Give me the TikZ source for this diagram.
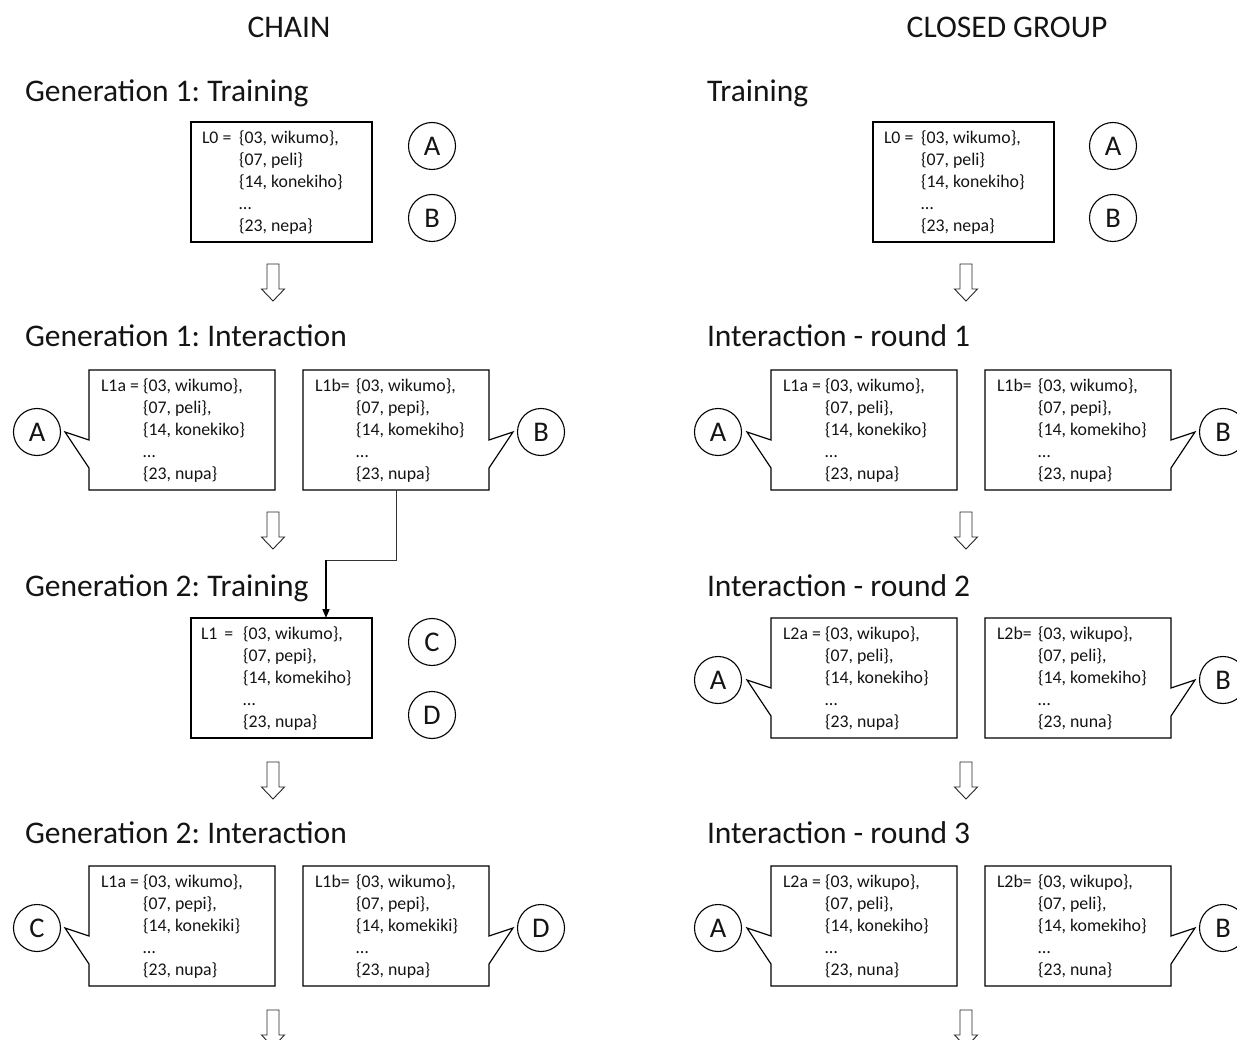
\documentclass[tikz,border=0pt]{standalone}
\usepackage{fontspec}
\setmainfont{Carlito}
\usetikzlibrary{calc,arrows.meta}
\definecolor{ink}{HTML}{141414}
\frenchspacing

% A lexicon card: [node style]{name}{top-left}{width}{label inset}{label width}{label}{entries}
\newcommand\lexicon[8][]{%
  \node[card,#1,minimum width=#4,anchor=north west] (#2) at #3 {};
  \node[lex,anchor=base west] (#2-lab) at ($(#2.north west)+(#5,21.5)$) {#7};
  \node[lex,anchor=base west] (#2-val) at ($(#2.north west)+(#5+#6,21.5)$)
    {\begin{tabular}[t]{@{}l@{}}#8\end{tabular}};
}
% Speech-bubble outlines with the tail on the left or on the right
\newcommand\tailleft[1]{%
  \draw[frame] (#1.north west) -- (#1.north east) -- (#1.south east) -- (#1.south west)
    -- ($(#1.north west)+(0,98)$) -- ($(#1.north west)+(-24,62)$)
    -- ($(#1.north west)+(0,70)$) -- cycle;}
\newcommand\tailright[1]{%
  \draw[frame] (#1.north east) -- (#1.north west) -- (#1.south west) -- (#1.south east)
    -- ($(#1.north east)+(0,98)$) -- ($(#1.north east)+(24,62)$)
    -- ($(#1.north east)+(0,70)$) -- cycle;}
% Hollow block arrow pointing down, top centre at (#1,#2)
\newcommand\hollowdown[2]{%
  \draw[thinframe] (#1-6,#2) -- (#1+6,#2) -- (#1+6,#2+25) -- (#1+11.5,#2+25)
    -- (#1,#2+37) -- (#1-11.5,#2+25) -- (#1-6,#2+25) -- cycle;}

\begin{document}
\begin{tikzpicture}[x=1pt,y=-1pt,
  every node/.style={inner sep=0pt,outer sep=0pt,text=ink},
  frame/.style={draw=black,line width=1.2pt,line join=miter},
  thinframe/.style={draw=black!85,line width=0.9pt},
  card/.style={minimum height=120pt,line width=1.2pt,draw=none},
  boxed/.style={draw=black},
  lex/.style={font=\fontsize{17.8pt}{22pt}\selectfont},
  head/.style={font=\fontsize{31.5pt}{36pt}\selectfont,anchor=base west},
  title/.style={font=\fontsize{31.5pt}{36pt}\selectfont,anchor=base},
  agent/.style={circle,draw=black,line width=1.1pt,minimum size=47pt,
    font=\fontsize{28.5pt}{28pt}\selectfont}
]
\useasboundingbox (0,0) rectangle (1237,1040);
\clip (0,0) rectangle (1237,1040);

% ---------------- Chain ----------------
\node[title] (chain) at (289,38) {CHAIN};

\node[head] (g1t) at (25,102) {Generation 1: Training};
\lexicon[boxed]{L0}{(191,122)}{181}{11}{37}{L0 =}{\{03, wikumo\},\\\{07, peli\}\\\{14, konekiho\}\\…\\\{23, nepa\}}
\node[agent] (cA0) at (432,146) {A};
\node[agent] (cB0) at (432,218) {B};
\hollowdown{273}{264}

\node[head] (g1i) at (25,347) {Generation 1: Interaction};
\lexicon{L1a}{(89,370)}{186}{12}{42}{L1a =}{\{03, wikumo\},\\\{07, peli\},\\\{14, konekiko\}\\…\\\{23, nupa\}}
\tailleft{L1a}
\node[agent] (cA1) at (37,432) {A};
\lexicon{L1b}{(303,370)}{186}{12}{41}{L1b=}{\{03, wikumo\},\\\{07, pepi\},\\\{14, komekiho\}\\…\\\{23, nupa\}}
\tailright{L1b}
\node[agent] (cB1) at (541,432) {B};
\hollowdown{273}{512}

\node[head] (g2t) at (25,596) {Generation 2: Training};
\lexicon[boxed]{L1}{(191,618)}{181}{10}{42}{L1 \,=}{\{03, wikumo\},\\\{07, pepi\},\\\{14, komekiho\}\\…\\\{23, nupa\}}
\node[agent] (cC0) at (432,642) {C};
\node[agent] (cD0) at (432,715) {D};
\hollowdown{273}{762}

% hand-over from the learner of generation 1 to the training set of generation 2
\coordinate (L1in) at ($(L1.north west)+(135,0)$);
\coordinate (turn) at ($(L1in)+(0,-58)$);
\draw[black!80,line width=1pt] (L1b.south) |- (turn);
\draw[black,line width=1.6pt,-{Triangle[length=9pt,width=7pt]}] (turn) -- (L1in);

\node[head] (g2i) at (25,843) {Generation 2: Interaction};
\lexicon{L2a}{(89,866)}{186}{12}{42}{L1a =}{\{03, wikumo\},\\\{07, pepi\},\\\{14, konekiki\}\\…\\\{23, nupa\}}
\tailleft{L2a}
\node[agent] (cC1) at (37,928) {C};
\lexicon{L2b}{(303,866)}{186}{12}{41}{L1b=}{\{03, wikumo\},\\\{07, pepi\},\\\{14, komekiki\}\\…\\\{23, nupa\}}
\tailright{L2b}
\node[agent] (cD1) at (541,928) {D};
\hollowdown{273}{1010}

% ---------------- Closed group ----------------
\node[title] (closed) at (1007,38) {CLOSED GROUP};

\node[head] (rt) at (707,102) {Training};
\lexicon[boxed]{R0}{(873,122)}{181}{11}{37}{L0 =}{\{03, wikumo\},\\\{07, peli\}\\\{14, konekiho\}\\…\\\{23, nepa\}}
\node[agent] (rA0) at (1113,146) {A};
\node[agent] (rB0) at (1113,218) {B};
\hollowdown{966}{264}

\node[head] (r1) at (707,347) {Interaction - round 1};
\lexicon{R1a}{(771,370)}{186}{12}{42}{L1a =}{\{03, wikumo\},\\\{07, peli\},\\\{14, konekiko\}\\…\\\{23, nupa\}}
\tailleft{R1a}
\node[agent] (rA1) at (718,432) {A};
\lexicon{R1b}{(985,370)}{186}{12}{41}{L1b=}{\{03, wikumo\},\\\{07, pepi\},\\\{14, komekiho\}\\…\\\{23, nupa\}}
\tailright{R1b}
\node[agent] (rB1) at (1223,432) {B};
\hollowdown{966}{512}

\node[head] (r2) at (707,596) {Interaction - round 2};
\lexicon{R2a}{(771,618)}{186}{12}{42}{L2a =}{\{03, wikupo\},\\\{07, peli\},\\\{14, konekiho\}\\…\\\{23, nupa\}}
\tailleft{R2a}
\node[agent] (rA2) at (718,680) {A};
\lexicon{R2b}{(985,618)}{186}{12}{41}{L2b=}{\{03, wikupo\},\\\{07, peli\},\\\{14, komekiho\}\\…\\\{23, nuna\}}
\tailright{R2b}
\node[agent] (rB2) at (1223,680) {B};
\hollowdown{966}{762}

\node[head] (r3) at (707,843) {Interaction - round 3};
\lexicon{R3a}{(771,866)}{186}{12}{42}{L2a =}{\{03, wikupo\},\\\{07, peli\},\\\{14, konekiho\}\\…\\\{23, nuna\}}
\tailleft{R3a}
\node[agent] (rA3) at (718,928) {A};
\lexicon{R3b}{(985,866)}{186}{12}{41}{L2b=}{\{03, wikupo\},\\\{07, peli\},\\\{14, komekiho\}\\…\\\{23, nuna\}}
\tailright{R3b}
\node[agent] (rB3) at (1223,928) {B};
\hollowdown{966}{1010}
\end{tikzpicture}
\end{document}
